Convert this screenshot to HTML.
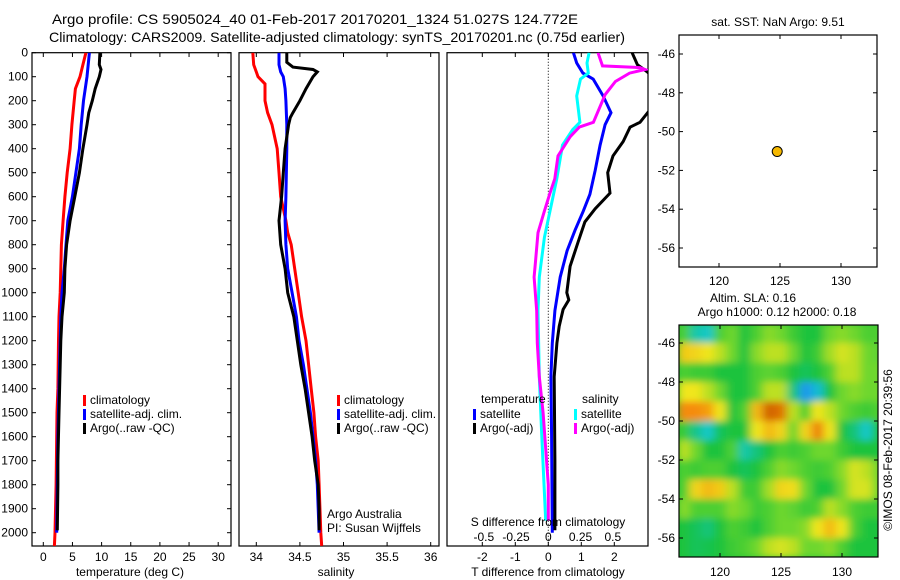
<!DOCTYPE html>
<html><head><meta charset="utf-8"><style>
html,body{margin:0;padding:0;background:#fff;}
svg{display:block;font-family:"Liberation Sans",sans-serif;}
text{fill:#000;}
</style></head><body>
<svg id="c" width="900" height="580" viewBox="0 0 900 580" xmlns="http://www.w3.org/2000/svg">
<defs>
<clipPath id="cp1"><rect x="32" y="52.7" width="199" height="493.3"/></clipPath>
<clipPath id="cp2"><rect x="239" y="52.7" width="200" height="493.3"/></clipPath>
<clipPath id="cp3"><rect x="447" y="52.7" width="201" height="493.3"/></clipPath>
<clipPath id="cp5"><rect x="679" y="325" width="199" height="232"/></clipPath>
<filter id="blur" x="-5%" y="-5%" width="110%" height="110%"><feGaussianBlur stdDeviation="4.5 3.5" edgeMode="duplicate"/></filter>
</defs>
<text x="315" y="24" text-anchor="middle" font-size="14" textLength="526" lengthAdjust="spacingAndGlyphs">Argo profile: CS 5905024_40 01-Feb-2017 20170201_1324 51.027S 124.772E</text>
<text x="337" y="42" text-anchor="middle" font-size="14" textLength="576" lengthAdjust="spacingAndGlyphs">Climatology: CARS2009. Satellite-adjusted climatology: synTS_20170201.nc (0.75d earlier)</text>
<g id="g"></g>
</svg>
<script>
// ---- data ----
const tDepth = [0,50,100,150,200,300,400,500,600,700,800,900,1000,1100,1200,1400,1500,1600,1800,2000,2055];
const tClim  = [7.3,6.8,6.3,5.5,5.3,4.9,4.6,4.1,3.7,3.4,3.1,3.0,2.9,2.7,2.6,2.5,2.35,2.3,2.2,2.0,1.9];
const tSatDepth = [0,50,100,200,300,400,500,600,700,800,900,1000,1100,1200,1400,1600,1800,2000];
const tSat   = [7.9,7.7,7.5,6.9,6.5,6.2,5.6,5.0,4.2,3.9,3.6,3.2,3.0,2.9,2.7,2.5,2.4,2.3];
const tArgoDepth = [0,50,70,100,150,200,250,300,400,500,600,700,800,900,1000,1100,1200,1300,1500,1700,1800,1990];
const tArgo  = [9.7,9.6,9.9,9.6,8.9,8.4,7.8,7.5,6.8,6.2,5.4,4.6,4.0,3.7,3.6,3.2,3.0,2.9,2.7,2.5,2.5,2.4];

const sClimDepth = [0,50,80,100,130,200,250,300,400,500,600,700,750,800,900,1000,1100,1200,1300,1400,1500,1600,1700,1800,2000,2055];
const sClim = [33.96,33.97,34.0,34.02,34.10,34.10,34.13,34.18,34.24,34.26,34.28,34.34,34.36,34.40,34.44,34.48,34.52,34.57,34.60,34.63,34.66,34.68,34.71,34.72,34.74,34.75];
const sSatDepth = [0,50,80,100,150,200,300,400,600,700,800,900,1000,1100,1200,1300,1400,1500,1600,1700,1800,2000];
const sSat = [34.26,34.26,34.28,34.31,34.33,34.34,34.35,34.35,34.34,34.33,34.34,34.36,34.41,34.46,34.49,34.54,34.58,34.62,34.65,34.68,34.70,34.72];
const sArgoDepth = [0,40,60,70,80,100,150,200,250,270,300,400,500,600,700,800,900,1000,1100,1200,1300,1400,1500,1600,1700,1800,1900,1990];
const sArgo = [34.35,34.35,34.42,34.65,34.70,34.65,34.57,34.50,34.42,34.39,34.37,34.33,34.31,34.29,34.26,34.28,34.33,34.36,34.43,34.47,34.51,34.56,34.60,34.64,34.67,34.71,34.72,34.72];

const dTSatDepth = [0,43,85,110,180,250,300,385,490,590,660,740,825,935,1075,1210,1350,1600,2000];
const dTSat = [0.76,0.86,1.05,1.36,1.66,1.9,1.72,1.57,1.42,1.26,1.06,0.81,0.57,0.36,0.2,0.12,0.08,0.1,0.12];
const dTArgoDepth = [0,50,80,120,200,290,310,370,430,500,585,650,705,790,890,1000,1030,1070,1140,1210,1350,1700,1990];
const dTArgo = [2.54,2.7,3.0,3.3,3.3,2.78,2.48,2.27,1.96,1.8,1.87,1.42,1.11,0.9,0.66,0.56,0.62,0.45,0.33,0.26,0.18,0.2,0.2];
const dSSatDepth = [0,43,85,110,180,290,320,385,525,660,770,935,1075,1350,1600,1950];
const dSSat = [0.316,0.3,0.31,0.25,0.22,0.245,0.19,0.11,0.066,0.013,-0.03,-0.07,-0.08,-0.07,-0.05,-0.02];
const dSArgoDepth = [0,55,62,70,85,120,175,290,310,350,430,525,590,660,750,875,935,1075,1210,1350,1500,1800,1950];
const dSArgo = [0.385,0.42,0.71,0.75,0.63,0.52,0.44,0.35,0.24,0.17,0.075,0.05,0.01,-0.03,-0.08,-0.1,-0.11,-0.09,-0.085,-0.07,-0.04,0.0,0.0];

const depthTicks = [0,100,200,300,400,500,600,700,800,900,1000,1100,1200,1300,1400,1500,1600,1700,1800,1900,2000];
const tTicks = [0,5,10,15,20,25,30];
const sTicks = [34,34.5,35,35.5,36];
const sTickLabels = ["34","34.5","35","35.5","36"];
const dTTicks = [-2,-1,0,1,2];
const dTTickLabels = ["-2","-1","0","1","2"];
const dSTicks = [-0.5,-0.25,0,0.25,0.5];
const dSTickLabels = ["-0.5","-0.25","0","0.25","0.5"];
const latTicks = [-46,-48,-50,-52,-54,-56];
const lonTicks = [120,125,130];
const argoLon = 124.772, argoLat = -51.027;

// SLA grid: rows lat -45.5..-56.5, cols lon 117..133
const slaLats = [-45.5,-46.5,-47.5,-48.5,-49.5,-50.5,-51.5,-52.5,-53.5,-54.5,-55.5,-56.5];
const slaLons = [117,118,119,120,121,122,123,124,125,126,127,128,129,130,131,132,133];
const slaRows = [
[0.3,-0.8,-1,0.3,0.5,0,0.3,0.6,0.5,0.2,0,0,0.5,0.6,0.5,0.3,0.3],
[1.3,1.2,1,0.8,0.5,0,0.6,0.8,0.8,0.5,0,0.2,0.7,0.9,0.8,0.5,0.4],
[0.3,0.2,0.2,0,0,0,0.3,0.4,0.3,0,-0.3,0,0.3,0.8,0.8,0.5,0.5],
[1,1,0.8,0.5,0,0,0.3,0.8,0.8,-0.5,-1.8,-1.2,0,0.5,0.6,0.5,0.5],
[2,2,1.8,1,0,0.3,1.5,2.8,2.5,0.8,0.3,1,0.8,0.5,0.3,0.2,0.3],
[0.2,-0.6,-1,-0.3,0,0,1,1.5,1.2,0.5,1.2,2.2,1,0,-0.5,-1,0],
[0.8,0.5,0,0,0.3,-0.8,-0.5,0,0.3,0.2,0.3,0.5,0.5,0.2,0,0,0],
[0.3,0.2,0.3,0.3,0,-0.3,0,0.3,0.6,0.5,0.3,0.2,0.3,0.6,0.9,0.8,0.5],
[0.3,1.2,1.5,1.3,0.8,0.2,0.2,0.7,1.2,1.1,0.5,0,0,0.5,0.9,0.9,0.5],
[0.6,0.3,0.3,0.3,0.6,0.5,0.2,0.3,0.5,0.4,0.2,0.3,0.8,0.6,0.3,0.2,0.2],
[0,-0.3,-0.5,0,0.3,0.2,0,0.3,0.5,0.5,0.6,1,1.5,1,0.3,0,0],
[0,-0.3,-0.2,0,0.2,0.3,0.5,0.8,0.9,0.8,0.5,0.5,0.6,0.3,0,0,0]
];

// ---- scales ----
const yD = d => 52.7 + d*0.24;
const xT = t => 43.3 + t*5.83;
const xS = s => 256.3 + (s-34)*87.2;
const xdT = t => 548.3 + t*33;
const xdS = s => 548.3 + s*129;
const mapX = lon => 719 + (lon-120)*12.2;
const mapY = lat => 54 + (-46-lat)*19.4;
const hmX = lon => 720 + (lon-120)*12.2;
const hmY = lat => 343 + (-46-lat)*19.5;

const NS = "http://www.w3.org/2000/svg";
const G = document.getElementById('g');
function el(tag, attrs, parent){ const e=document.createElementNS(NS,tag); for(const k in attrs) e.setAttribute(k,attrs[k]); (parent||G).appendChild(e); return e; }
function txt(x,y,s,size,anchor,parent){ const e=el('text',{x:x,y:y,'font-size':size||12,'text-anchor':anchor||'middle'},parent); e.textContent=s; return e; }

function line(xs, ds, xf, color, clip, name){
  const pts = xs.map((v,i)=>xf(v).toFixed(1)+','+yD(ds[i]).toFixed(1)).join(' ');
  const p = el('polyline',{points:pts,fill:'none',stroke:color,'stroke-width':3,'clip-path':'url(#'+clip+')'});
  
  
}

function frame(x0,x1,y0,y1,name){
  const r = el('rect',{x:x0,y:y0,width:x1-x0,height:y1-y0,fill:'none',stroke:'#000','stroke-width':1.2});
  
  
}

// Panel 1: temperature
frame(32,231,52.7,546,'temperature-axes');
depthTicks.forEach(d=>{
  el('line',{x1:32,x2:36,y1:yD(d),y2:yD(d),stroke:'#000'});
  el('line',{x1:227,x2:231,y1:yD(d),y2:yD(d),stroke:'#000'});
  const t = txt(28,yD(d)+4,String(d),12,'end');
  
  
});
tTicks.forEach(v=>{
  el('line',{x1:xT(v),x2:xT(v),y1:52.7,y2:57,stroke:'#000'});
  el('line',{x1:xT(v),x2:xT(v),y1:542,y2:546,stroke:'#000'});
  const t = txt(xT(v),561,String(v),12);
  
  
});
txt(130,576,'temperature (deg C)',12);
line(tClim,tDepth,xT,'#ff0000','cp1','temperature-climatology-line');
line(tSat,tSatDepth,xT,'#0000ff','cp1','temperature-satellite-line');
line(tArgo,tArgoDepth,xT,'#000000','cp1','temperature-argo-line');
function legend(x,y,items,name){
  items.forEach((it,i)=>{
    el('rect',{x:x,y:y+i*14-9,width:3,height:11,fill:it[1]});
    const t = txt(x+7,y+i*14,it[0],12,'start');
    
    
  });
}
legend(83,404,[['climatology','#ff0000'],['satellite-adj. clim.','#0000ff'],['Argo(..raw -QC)','#000']],'temperature-legend');

// Panel 2: salinity
frame(239,439,52.7,546,'salinity-axes');
sTicks.forEach((v,i)=>{
  el('line',{x1:xS(v),x2:xS(v),y1:52.7,y2:57,stroke:'#000'});
  el('line',{x1:xS(v),x2:xS(v),y1:542,y2:546,stroke:'#000'});
  const t = txt(xS(v),561,sTickLabels[i],12);
  
  
});
txt(336,576,'salinity',12);
line(sClim,sClimDepth,xS,'#ff0000','cp2','salinity-climatology-line');
line(sSat,sSatDepth,xS,'#0000ff','cp2','salinity-satellite-line');
line(sArgo,sArgoDepth,xS,'#000000','cp2','salinity-argo-line');
legend(337,404,[['climatology','#ff0000'],['satellite-adj. clim.','#0000ff'],['Argo(..raw -QC)','#000']],'salinity-legend');
txt(327,518,'Argo Australia',12,'start');
txt(327,532,'PI: Susan Wijffels',12,'start');

// Panel 3: differences
frame(447,648,52.7,546,'difference-axes');
el('line',{x1:548.3,x2:548.3,y1:52.7,y2:546,stroke:'#000','stroke-dasharray':'1 2'});
dTTicks.forEach((v,i)=>{
  el('line',{x1:xdT(v),x2:xdT(v),y1:52.7,y2:57,stroke:'#000'});
  el('line',{x1:xdT(v),x2:xdT(v),y1:542,y2:546,stroke:'#000'});
  const t = txt(xdT(v),561,dTTickLabels[i],12);
  
  
});
line(dTSat,dTSatDepth,xdT,'#0000ff','cp3','t-diff-satellite-line');
line(dTArgo,dTArgoDepth,xdT,'#000000','cp3','t-diff-argo-line');
line(dSSat,dSSatDepth,xdS,'#00ffff','cp3','s-diff-satellite-line');
line(dSArgo,dSArgoDepth,xdS,'#ff00ff','cp3','s-diff-argo-line');
dSTicks.forEach((v,i)=>{
  const t = txt(xdS(v),541,dSTickLabels[i],12);
  
  
});
txt(548,526,'S difference from climatology',12);
txt(548,576,'T difference from climatology',12);
txt(481,403,'temperature',12,'start');
txt(582,403,'salinity',12,'start');
legend(473,418,[['satellite','#0000ff'],['Argo(-adj)','#000']],'t-diff-legend');
legend(574,418,[['satellite','#00ffff'],['Argo(-adj)','#ff00ff']],'s-diff-legend');

// Map panel
frame(679,877,35,267,'location-map-axes');
txt(778,26,'sat. SST: NaN Argo: 9.51',12);
latTicks.forEach(v=>{
  el('line',{x1:679,x2:683,y1:mapY(v),y2:mapY(v),stroke:'#000'});
  el('line',{x1:873,x2:877,y1:mapY(v),y2:mapY(v),stroke:'#000'});
  const t = txt(675,mapY(v)+4,String(v),12,'end');
  
  
});
lonTicks.forEach(v=>{
  el('line',{x1:mapX(v),x2:mapX(v),y1:35,y2:39,stroke:'#000'});
  el('line',{x1:mapX(v),x2:mapX(v),y1:263,y2:267,stroke:'#000'});
  const t = txt(mapX(v),285,String(v),12);
  
  
});
const dot = el('circle',{cx:mapX(argoLon),cy:mapY(argoLat),r:5,fill:'#f5b800',stroke:'#000','stroke-width':1});



// SLA heatmap
txt(753,302,'Altim. SLA: 0.16',12);
txt(777,316,'Argo h1000: 0.12 h2000: 0.18',12);
const stops = [[-2,[30,140,245]],[-1,[20,200,200]],[-0.3,[20,195,90]],[0,[30,195,60]],[0.5,[110,215,45]],[1,[240,230,30]],[2,[245,140,10]],[3,[200,90,0]]];
function cmap(v){
  if(v<=stops[0][0]) return stops[0][1];
  for(let i=1;i<stops.length;i++){ if(v<=stops[i][0]){ const a=stops[i-1],b=stops[i],f=(v-a[0])/(b[0]-a[0]); return a[1].map((c,k)=>Math.round(c+(b[1][k]-c)*f)); } }
  return stops[stops.length-1][1];
}
const hg = el('g',{'clip-path':'url(#cp5)'});


el('rect',{x:679,y:325,width:199,height:232,fill:'rgb(30,195,60)'},hg);
const bg = el('g',{filter:'url(#blur)'},hg);
slaRows.forEach((row,j)=>row.forEach((v,i)=>{
  const c = cmap(v);
  const r = el('rect',{x:hmX(slaLons[i]-0.5),y:hmY(slaLats[j]+0.5),width:12.4,height:19.7,fill:'rgb('+c.join(',')+')'},bg);
  
  
}));
frame(679,878,325,557,'sla-map-axes');
latTicks.forEach(v=>{
  el('line',{x1:679,x2:683,y1:hmY(v),y2:hmY(v),stroke:'#000'});
  el('line',{x1:874,x2:878,y1:hmY(v),y2:hmY(v),stroke:'#000'});
  const t = txt(675,hmY(v)+4,String(v),12,'end');
  
  
});
lonTicks.forEach(v=>{
  el('line',{x1:hmX(v),x2:hmX(v),y1:325,y2:329,stroke:'#000'});
  el('line',{x1:hmX(v),x2:hmX(v),y1:553,y2:557,stroke:'#000'});
  const t = txt(hmX(v),576,String(v),12);
  
  
});
const cr = txt(0,0,'©IMOS 08-Feb-2017 20:39:56',12);
cr.setAttribute('transform','translate(892,450) rotate(-90)');


</script>
</body></html>
